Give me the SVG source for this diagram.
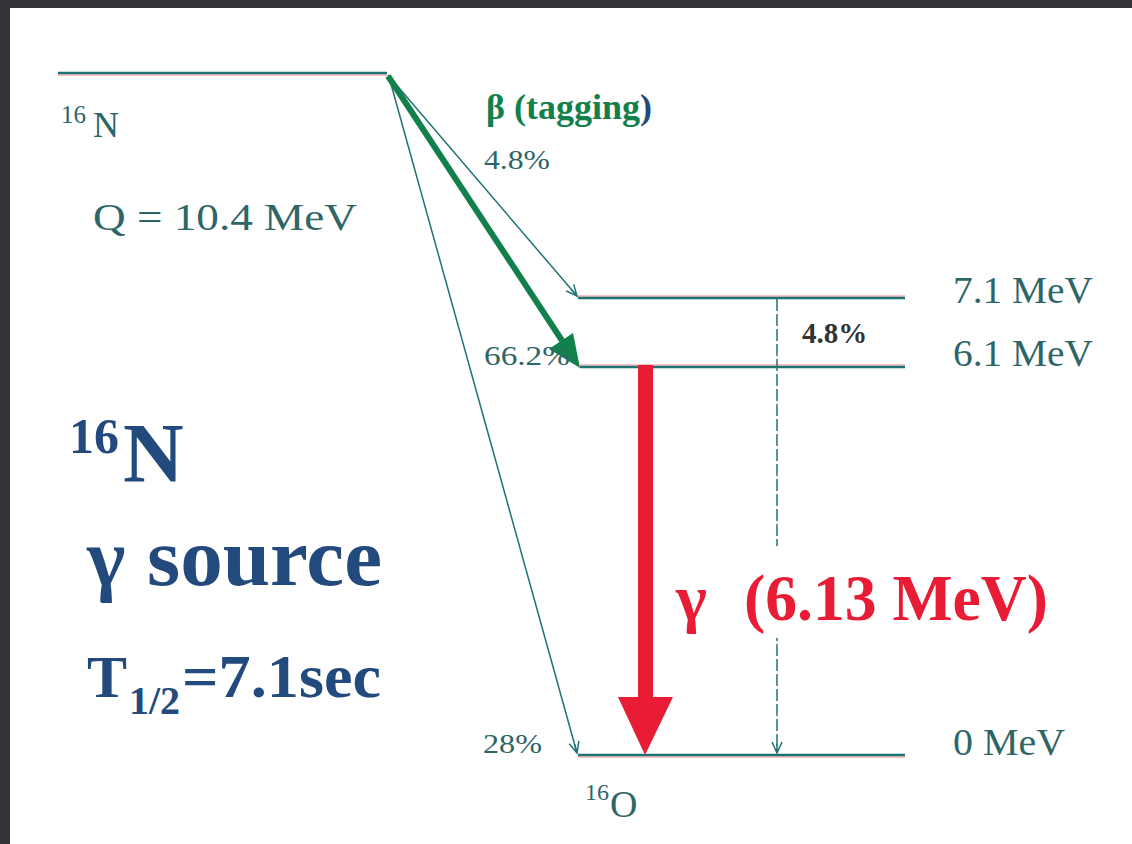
<svg xmlns="http://www.w3.org/2000/svg" width="1132" height="844" viewBox="0 0 1132 844">
  <style>
    .lvl { stroke: #1f7373; stroke-width: 2.4; fill: none; }
    .shadow { stroke: #f6c4c4; stroke-width: 2.2; fill: none; }
    .thin { stroke: #1f7373; stroke-width: 1.5; fill: none; }
    .scan { font-family: "Liberation Serif", "Times New Roman", serif; fill: #2e6668; }
    .navy { font-family: "Liberation Serif", "Times New Roman", serif; font-weight: bold; fill: #234a7c; }
    .red { font-family: "Liberation Serif", "Times New Roman", serif; font-weight: bold; fill: #e81c34; }
    .green { font-family: "Liberation Serif", "Times New Roman", serif; font-weight: bold; fill: #12804a; }
  </style>
  <defs>
    <marker id="openHead" markerWidth="14" markerHeight="14" refX="12" refY="6" orient="auto" markerUnits="userSpaceOnUse">
      <path d="M1,1 L12,6 L1,11 M3,6 L12,6" fill="none" stroke="#1f7373" stroke-width="1.5"/>
    </marker>
  </defs>

  <!-- frame -->
  <rect x="0" y="0" width="1132" height="844" fill="#ffffff"/>
  <rect x="0" y="0" width="1132" height="8" fill="#333237"/>
  <rect x="0" y="0" width="10" height="844" fill="#333237"/>

  <!-- levels -->
  <g id="level-16N">
    <line class="shadow" x1="58" y1="75" x2="387" y2="75"/>
    <line class="lvl" x1="58" y1="73" x2="387" y2="73"/>
    <text class="scan" x="61" y="123" font-size="25">16</text>
    <text class="scan" x="93" y="137" font-size="36">N</text>
    <text class="scan" x="93" y="230" font-size="37" textLength="264" lengthAdjust="spacingAndGlyphs">Q = 10.4 MeV</text>
  </g>
  <g id="level-7.1">
    <line class="shadow" x1="578" y1="296" x2="905" y2="296"/>
    <line class="lvl" x1="578" y1="298" x2="905" y2="298"/>
    <text class="scan" x="953" y="303" font-size="38" textLength="140" lengthAdjust="spacingAndGlyphs">7.1 MeV</text>
  </g>
  <g id="level-6.1">
    <line class="shadow" x1="580" y1="365" x2="905" y2="365"/>
    <line class="lvl" x1="580" y1="367" x2="905" y2="367"/>
    <text class="scan" x="953" y="366" font-size="38" textLength="140" lengthAdjust="spacingAndGlyphs">6.1 MeV</text>
  </g>
  <g id="level-0">
    <line class="shadow" x1="578" y1="757" x2="905" y2="757"/>
    <line class="lvl" x1="578" y1="755" x2="905" y2="755"/>
    <text class="scan" x="953" y="755" font-size="38" textLength="112" lengthAdjust="spacingAndGlyphs">0 MeV</text>
    <text class="scan" x="585" y="800" font-size="24">16</text>
    <text class="scan" x="610" y="817" font-size="38">O</text>
  </g>

  <!-- connectors -->
  <g id="connectors">
    <line class="thin" x1="388" y1="75" x2="577" y2="296" marker-end="url(#openHead)"/>
    <line class="thin" x1="389" y1="77" x2="577" y2="753" marker-end="url(#openHead)"/>
    <line class="thin" x1="777" y1="299" x2="777" y2="753" stroke-dasharray="12 3" marker-end="url(#openHead)"/>
    <!-- beta (green) -->
    <line x1="388" y1="76" x2="563" y2="342" stroke="#12804a" stroke-width="6"/>
    <polygon points="580,368 549,349 573,333" fill="#12804a"/>
    <!-- gamma (red) -->
    <rect x="638" y="365" width="15" height="334" fill="#e81c34"/>
    <polygon points="618,697 673,697 645,755" fill="#e81c34"/>
  </g>

  <!-- labels -->
  <g id="labels">
    <text class="green" x="486" y="119" font-size="36"><tspan>β (tagging</tspan><tspan fill="#234a7c">)</tspan></text>
    <text class="scan" x="484" y="169" font-size="28" textLength="66" lengthAdjust="spacingAndGlyphs">4.8%</text>
    <text class="scan" x="484" y="365" font-size="28" textLength="86" lengthAdjust="spacingAndGlyphs">66.2%</text>
    <text class="scan" x="483" y="753" font-size="28" textLength="59" lengthAdjust="spacingAndGlyphs">28%</text>
    <text x="802" y="343" font-size="29" font-weight="bold" font-family="Liberation Serif, serif" fill="#333333">4.8%</text>
    <rect x="672" y="546" width="385" height="92" fill="#ffffff"/>
    <text class="red" x="676" y="620" font-size="66">γ</text>
    <text class="red" x="744" y="620" font-size="66" textLength="304" lengthAdjust="spacingAndGlyphs">(6.13 MeV)</text>
  </g>

  <g id="title">
    <text class="navy" x="69" y="453" font-size="50">16</text>
    <text class="navy" x="123" y="482" font-size="84">N</text>
    <text class="navy" x="87" y="585" font-size="82">γ</text>
    <text class="navy" x="147" y="585" font-size="82" textLength="235" lengthAdjust="spacingAndGlyphs">source</text>
    <text class="navy" x="87" y="697" font-size="60">T</text>
    <text class="navy" x="129" y="714" font-size="40">1/2</text>
    <text class="navy" x="182" y="697" font-size="62" textLength="199" lengthAdjust="spacingAndGlyphs">=7.1sec</text>
  </g>
</svg>
